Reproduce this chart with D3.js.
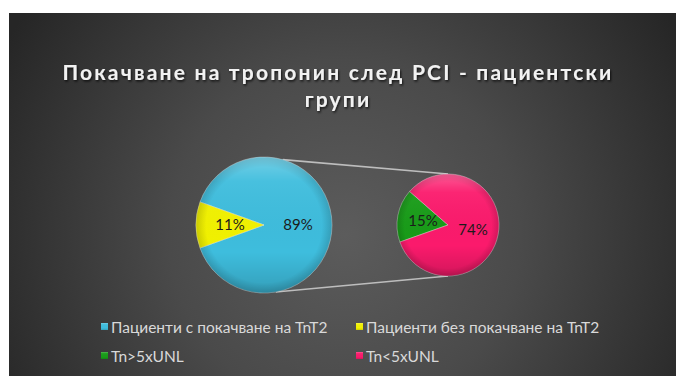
<!DOCTYPE html>
<html>
<head>
<meta charset="utf-8">
<script src="https://cdn.jsdelivr.net/npm/d3@7"></script>
<style>
  html, body { margin: 0; padding: 0; background: #ffffff; }
  svg { display: block; }
</style>
</head>
<body>
<svg id="chart" width="676" height="376"></svg>
<script>
// Main pie: patients with / without troponin rise (%)
const mainCategories = ["Пациенти с покачване на TnT2", "Пациенти без покачване на TnT2"];
const mainValues = [89, 11];
const mainColors = ["#3ebddd", "#f2f200"];

// Secondary pie: split of the 89% group by troponin level (%)
const subCategories = ["Tn>5xUNL", "Tn<5xUNL"];
const subValues = [15, 74];
const subColors = ["#189c18", "#fb1a6c"];

const titleLines = ["Покачване на тропонин след PCI - пациентски", "групи"];

const W = 676, H = 376;
const svg = d3.select("#chart");
const defs = svg.append("defs");

// Chart area with radial shading
const bg = defs.append("radialGradient").attr("id", "bgGrad")
  .attr("gradientUnits", "userSpaceOnUse")
  .attr("cx", 345).attr("cy", 235).attr("r", 390);
bg.append("stop").attr("offset", "0%").attr("stop-color", "#5c5c5c");
bg.append("stop").attr("offset", "45%").attr("stop-color", "#4a4a4a");
bg.append("stop").attr("offset", "100%").attr("stop-color", "#262626");

svg.append("rect").attr("x", 9).attr("y", 13).attr("width", W - 9).attr("height", H - 13)
  .attr("fill", "url(#bgGrad)");

// Bevel overlays for the pies
const rim = defs.append("radialGradient").attr("id", "rimShade");
rim.append("stop").attr("offset", "0%").attr("stop-color", "#000").attr("stop-opacity", 0);
rim.append("stop").attr("offset", "85%").attr("stop-color", "#000").attr("stop-opacity", 0);
rim.append("stop").attr("offset", "100%").attr("stop-color", "#000").attr("stop-opacity", 0.16);

const gloss = defs.append("linearGradient").attr("id", "gloss")
  .attr("x1", 0).attr("y1", 0).attr("x2", 0).attr("y2", 1);
gloss.append("stop").attr("offset", "0%").attr("stop-color", "#fff").attr("stop-opacity", 0.28);
gloss.append("stop").attr("offset", "18%").attr("stop-color", "#fff").attr("stop-opacity", 0.05);
gloss.append("stop").attr("offset", "70%").attr("stop-color", "#000").attr("stop-opacity", 0);
gloss.append("stop").attr("offset", "100%").attr("stop-color", "#000").attr("stop-opacity", 0.16);

const shadow = defs.append("filter").attr("id", "txtShadow")
  .attr("x", "-10%").attr("y", "-30%").attr("width", "120%").attr("height", "160%");
shadow.append("feDropShadow").attr("dx", 1).attr("dy", 1.5).attr("stdDeviation", 1)
  .attr("flood-color", "#000").attr("flood-opacity", 0.75);

// Title
svg.append("g").selectAll("text").data(titleLines).join("text")
  .attr("x", 338).attr("y", (d, i) => 80 + i * 27)
  .attr("text-anchor", "middle")
  .attr("font-family", "Lato, 'Open Sans', sans-serif")
  .attr("font-weight", 700).attr("font-size", 21)
  .attr("letter-spacing", 2.2)
  .attr("fill", "#f2f2f2")
  .attr("filter", "url(#txtShadow)")
  .text(d => d);

// Geometry of the two pies
const mainC = { x: 264, y: 225, r: 68 };
const subC = { x: 448, y: 225, r: 51 };

const mainTotal = d3.sum(mainValues);
const subTotal = d3.sum(subValues);
// Small slice of the main pie is centred on the left side
const mainStart = 1.5 * Math.PI - (mainValues[1] / mainTotal) * Math.PI - (mainValues[0] / mainTotal) * 2 * Math.PI;
const subStart = 250.5 / 180 * Math.PI;

const mainPie = d3.pie().sort(null).startAngle(mainStart).endAngle(mainStart + 2 * Math.PI)(mainValues);
const subPie = d3.pie().sort(null).startAngle(subStart).endAngle(subStart + 2 * Math.PI)(subValues);

// Connector lines between the pies
const pt = (c, deg) => {
  const a = deg / 180 * Math.PI;
  return [c.x + c.r * Math.sin(a), c.y - c.r * Math.cos(a)];
};
const connectors = [[pt(mainC, 16), pt(subC, 0)], [pt(mainC, 170), pt(subC, 180)]];
svg.append("g").selectAll("line").data(connectors).join("line")
  .attr("x1", d => d[0][0]).attr("y1", d => d[0][1])
  .attr("x2", d => d[1][0]).attr("y2", d => d[1][1])
  .attr("stroke", "#bdbdbd").attr("stroke-width", 1.6);

function drawPie(c, slices, colors) {
  const g = svg.append("g").attr("transform", `translate(${c.x},${c.y})`);
  const arc = d3.arc().innerRadius(0).outerRadius(c.r);
  g.selectAll("path.slice").data(slices).join("path")
    .attr("class", "slice")
    .attr("d", arc)
    .attr("fill", (d, i) => colors[i])
    .attr("stroke", "rgba(255,255,255,0.35)")
    .attr("stroke-width", 1);
  g.append("circle").attr("r", c.r).attr("fill", "url(#rimShade)");
  g.append("circle").attr("r", c.r).attr("fill", "url(#gloss)");
  g.selectAll("text").data(slices).join("text")
    .attr("transform", d => `translate(${arc.centroid(d)})`)
    .attr("dy", "0.36em")
    .attr("text-anchor", "middle")
    .attr("font-family", "Lato, 'Open Sans', sans-serif")
    .attr("font-size", 15)
    .attr("fill", "#1b1b1b")
    .text(d => `${d.value}%`);
}
drawPie(mainC, mainPie, mainColors);
drawPie(subC, subPie, subColors);

// Legend
const legendItems = [
  { label: mainCategories[0], color: mainColors[0], x: 101, y: 327 },
  { label: mainCategories[1], color: mainColors[1], x: 356, y: 327 },
  { label: subCategories[0], color: subColors[0], x: 101, y: 356 },
  { label: subCategories[1], color: subColors[1], x: 356, y: 356 }
];
const lg = svg.append("g").selectAll("g").data(legendItems).join("g")
  .attr("transform", d => `translate(${d.x},${d.y})`);
lg.append("rect").attr("x", 0).attr("y", -4).attr("width", 7).attr("height", 7)
  .attr("fill", d => d.color);
lg.append("rect").attr("x", 0).attr("y", -4).attr("width", 7).attr("height", 7)
  .attr("fill", "url(#gloss)");
lg.append("text").attr("x", 10).attr("dy", "0.36em")
  .attr("font-family", "Lato, 'Open Sans', sans-serif")
  .attr("font-size", 15.5)
  .attr("fill", "#d9d9d9")
  .text(d => d.label);
</script>
</body>
</html>
